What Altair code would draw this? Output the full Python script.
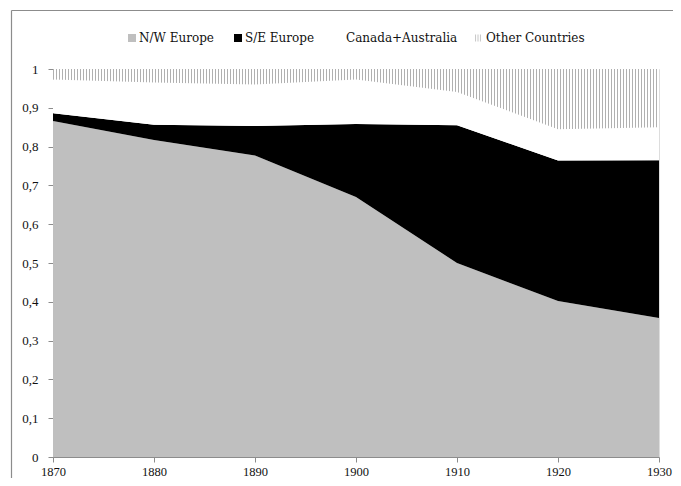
import altair as alt
import pandas as pd

years = [1870, 1880, 1890, 1900, 1910, 1920, 1930]
series = ["N/W Europe", "S/E Europe", "Canada+Australia", "Other Countries"]
nw_europe = [0.866, 0.817, 0.777, 0.670, 0.500, 0.402, 0.358]
se_europe = [0.020, 0.039, 0.076, 0.188, 0.355, 0.362, 0.407]
canada_australia = [0.087, 0.109, 0.107, 0.115, 0.086, 0.081, 0.085]
other_countries = [0.027, 0.035, 0.040, 0.027, 0.059, 0.155, 0.150]
x_ticks = [1870, 1880, 1890, 1900, 1910, 1920, 1930]
y_ticks = [0, 0.1, 0.2, 0.3, 0.4, 0.5, 0.6, 0.7, 0.8, 0.9, 1.0]

rows = []
for i, y in enumerate(years):
    for k, (name, vals) in enumerate(zip(series, [nw_europe, se_europe, canada_australia, other_countries])):
        rows.append({"year": y, "series": name, "value": vals[i], "order": k})
df = pd.DataFrame(rows)

W, H = 606, 388

# hatch pattern for "Other Countries" via a hard-stop gradient (3px period)
N = W // 3
stops = []
for i in range(N):
    a = i / N
    b = (i + 1 / 3) / N
    c = (i + 1) / N
    stops += [alt.GradientStop(offset=a, color="#b0b0b0"),
              alt.GradientStop(offset=b, color="#b0b0b0"),
              alt.GradientStop(offset=b, color="#ffffff"),
              alt.GradientStop(offset=c, color="#ffffff")]
hatch = alt.LinearGradient(gradient="linear", x1=0, x2=1, y1=0, y2=0, stops=stops)

font = "Liberation Serif"
lfont = "DejaVu Serif"

base = alt.Chart(df).transform_stack(
    stack="value", groupby=["year"], as_=["lo", "hi"],
    sort=[alt.SortField(field="order", order="ascending")]
)

xscale = alt.Scale(domain=[1870, 1930], nice=False, zero=False)
yscale = alt.Scale(domain=[0, 1], nice=False)

xaxis = alt.Axis(values=x_ticks, format="d", labelFont=font, labelFontSize=12.5,
                 labelColor="#111111", domainColor="#8c8c8c", tickColor="#8c8c8c",
                 ticks=True, tickSize=5, labelPadding=3, grid=False, labelFlush=False,
                 labelOverlap=False)
yaxis = alt.Axis(values=y_ticks, labelExpr="replace(format(datum.value, '.1~f'), '.', ',')",
                 labelFont=font, labelFontSize=13, labelColor="#111111",
                 domainColor="#8c8c8c", tickColor="#8c8c8c", ticks=True, tickSize=5,
                 labelPadding=10, grid=False, labelOverlap=False)

def X():
    return alt.X("year:Q", title=None, scale=xscale, axis=xaxis)

def Y(field):
    return alt.Y(field, title=None, scale=yscale, axis=yaxis)

areas = base.mark_area(interpolate="linear").encode(
    x=X(),
    y=Y("lo:Q"),
    y2="hi:Q",
    color=alt.Color("series:N", scale=alt.Scale(domain=series,
                    range=["#bfbfbf", "#000000", "#ffffff", "#ffffff"]),
                    legend=alt.Legend(
                        orient="none", legendX=73, legendY=-37, direction="horizontal",
                        values=series[:3],
                        title=None, labelFont=lfont, labelFontSize=12, labelColor="#111111",
                        symbolType="square", symbolSize=64, symbolStrokeWidth=0,
                        labelOffset=1, columnPadding=18, padding=0)),
    order=alt.Order("order:Q"),
)

hatch_layer = base.transform_filter(alt.datum.series == "Other Countries").mark_area(
    fill=hatch, interpolate="linear"
).encode(x=X(), y=Y("lo:Q"), y2="hi:Q")

# empty point layer only to carry the hatched legend entry
legend_layer = base.transform_filter("false").mark_point(filled=False, color="#b0b0b0").encode(
    x=X(), y=Y("hi:Q"),
    shape=alt.Shape("series:N", scale=alt.Scale(domain=series[3:],
                    range=["M-0.7,-1V1M0,-1V1M0.7,-1V1"]),
                    legend=alt.Legend(
                        orient="none", legendX=419, legendY=-37, direction="horizontal",
                        title=None, labelFont=lfont, labelFontSize=12, labelColor="#111111",
                        symbolSize=49, symbolStrokeColor="#b0b0b0", symbolStrokeWidth=1,
                        symbolFillColor="transparent", labelOffset=2, padding=0)),
)

frame_left = alt.Chart(pd.DataFrame({"a": [0]})).mark_rule(color="#8c8c8c", strokeWidth=1.2).encode(
    x=alt.value(-41.5), y=alt.value(-58.5), y2=alt.value(420))
frame_top = alt.Chart(pd.DataFrame({"a": [0]})).mark_rule(color="#8c8c8c", strokeWidth=1.2).encode(
    x=alt.value(-41.5), x2=alt.value(630), y=alt.value(-58.5))

chart = alt.layer(areas, hatch_layer, legend_layer, frame_left, frame_top).properties(
    width=W, height=H,
    autosize=alt.AutoSizeParams(type="none"),
    padding={"left": 45, "top": 61, "right": 14, "bottom": 21},
).configure_view(stroke=None).configure(background="white")

chart.save("out.html", embed_options={"renderer": "svg", "actions": False})
